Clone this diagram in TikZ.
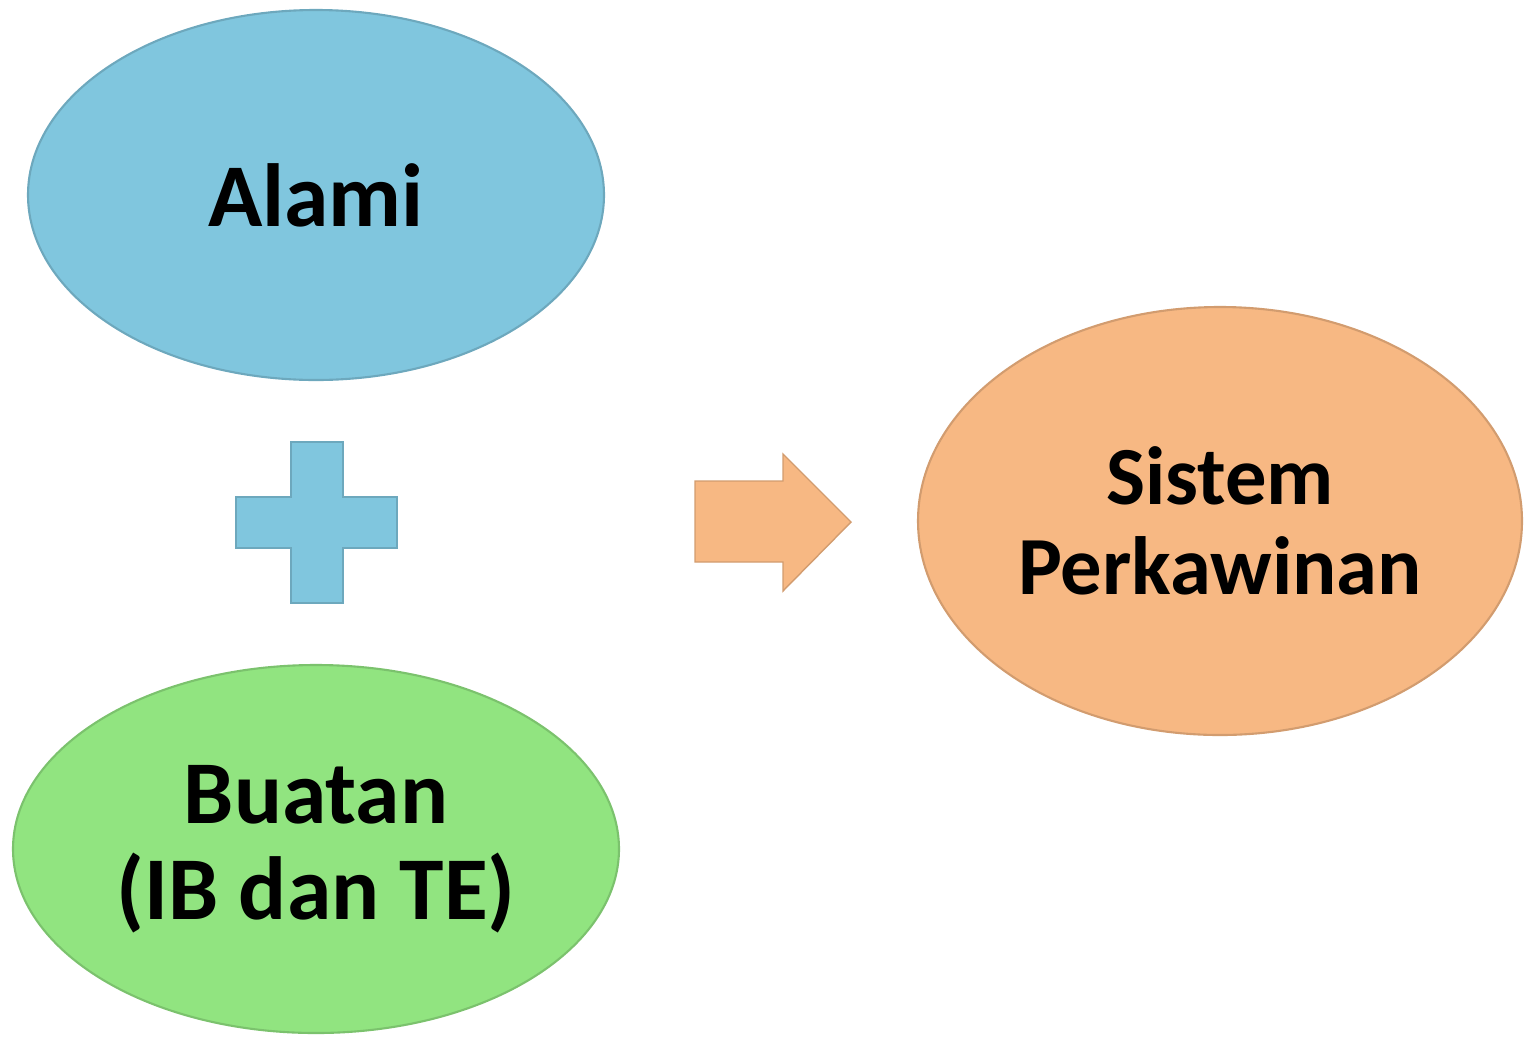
\documentclass[tikz,border=0pt]{standalone}
\usepackage{fontspec}
\setmainfont{Carlito}
\usetikzlibrary{shapes.geometric}
\definecolor{alamiblue}{RGB}{128,198,222}
\definecolor{buatangreen}{RGB}{145,228,128}
\definecolor{sistemorange}{RGB}{247,184,131}
\begin{document}
\begin{tikzpicture}
	\tikzset{blob/.style={ellipse, draw=#1!85!black, line width=.6pt, fill=#1, inner sep=0pt,
			align=center, font=\fontsize{25.5}{27.3}\selectfont\bfseries},
		blob/.default={alamiblue}}
	\useasboundingbox (0,0) rectangle (15.24,-10.36);
	%Ellipsen
	\node[blob=alamiblue, minimum width=5.76cm, minimum height=3.7cm] (alami) at (3.16,-1.95) {Alami};
	\node[blob=buatangreen, minimum width=6.06cm, minimum height=3.68cm] (buatan) at (3.16,-8.49) {Buatan\\(IB dan TE)};
	\node[blob=sistemorange, minimum width=6.04cm, minimum height=4.28cm,
		font=\fontsize{23.5}{25.6}\selectfont\bfseries] (sistem) at (12.20,-5.21) {Sistem\\Perkawinan};
	%Plus
	\fill[alamiblue, draw=alamiblue!85!black, line width=.4pt]
		(2.91,-4.42) -- (3.43,-4.42) -- (3.43,-4.97) -- (3.97,-4.97) -- (3.97,-5.48)
		-- (3.43,-5.48) -- (3.43,-6.03) -- (2.91,-6.03) -- (2.91,-5.48) -- (2.36,-5.48)
		-- (2.36,-4.97) -- (2.91,-4.97) -- cycle;
	%Pfeil
	\fill[sistemorange, draw=sistemorange!85!black, line width=.4pt]
		(6.95,-4.81) -- (7.83,-4.81) -- (7.83,-4.54) -- (8.51,-5.22) -- (7.83,-5.91)
		-- (7.83,-5.62) -- (6.95,-5.62) -- cycle;
\end{tikzpicture}
\end{document}
